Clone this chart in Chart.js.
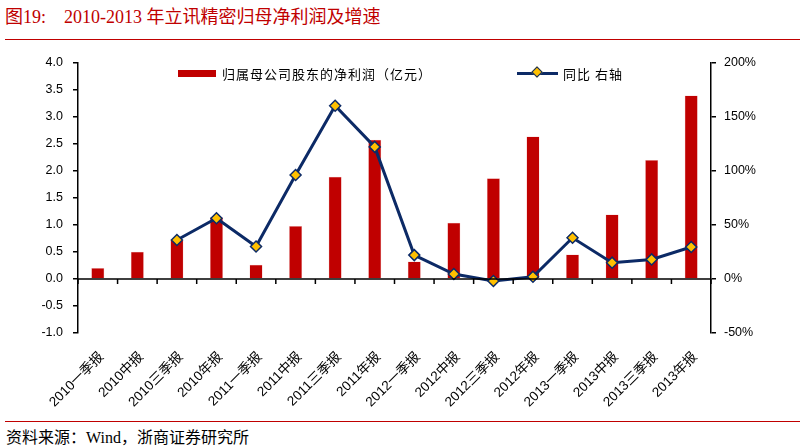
<!DOCTYPE html>
<html>
<head>
<meta charset="utf-8">
<script src="https://cdn.jsdelivr.net/npm/chart.js@4/dist/chart.umd.min.js"></script>
<style>
  body { margin: 0; background: #fff; width: 802px; height: 448px; position: relative; overflow: hidden; font-family: "Liberation Sans", "Noto Sans CJK SC", sans-serif; }
  #title { position: absolute; left: 5px; top: 2px; font-size: 18px; color: #c00000; font-family: "Liberation Serif", "Noto Sans CJK SC", serif; white-space: pre; }
  #title span { margin-left: 18px; }
  #titleLine { position: absolute; left: 5px; top: 39px; width: 795px; height: 1px; background: #c00000; }
  #footLine { position: absolute; left: 5px; top: 421px; width: 795px; height: 1px; background: #c00000; }
  #foot { position: absolute; left: 6px; top: 424px; font-size: 16px; color: #000; font-family: "Liberation Serif", "Noto Sans CJK SC", serif; }
  #wrap { position: absolute; left: 0; top: 45px; width: 802px; height: 375px; }
  .leg { position: absolute; top: 64px; font-size: 13px; color: #000; font-family: "Noto Sans CJK SC", sans-serif; display: flex; align-items: center; height: 18px; }
  .leg .bar { width: 38px; height: 7px; background: #c00000; margin-right: 6px; }
  .leg .ln { position: relative; width: 41px; height: 3px; background: #0c2a66; margin-right: 5px; }
  .leg .ln i { position: absolute; left: 16px; top: -3.5px; width: 6px; height: 6px; background: #ffc000; border: 1px solid #0c2a66; transform: rotate(45deg); }
</style>
</head>
<body>
<div id="title">图19:<span>2010-2013 年立讯精密归母净利润及增速</span></div>
<div id="titleLine"></div>
<div id="wrap"><canvas id="chart" width="802" height="375"></canvas></div>
<div class="leg" style="left:178px; letter-spacing:1px"><span class="bar"></span>归属母公司股东的净利润（亿元）</div>
<div class="leg" style="left:517px; letter-spacing:1px"><span class="ln"><i></i></span>同比 右轴</div>
<div id="footLine"></div>
<div id="foot">资料来源：Wind，浙商证券研究所</div>

<script>
const periods = ["2010一季报", "2010中报", "2010三季报", "2010年报", "2011一季报", "2011中报", "2011三季报", "2011年报",
  "2012一季报", "2012中报", "2012三季报", "2012年报", "2013一季报", "2013中报", "2013三季报", "2013年报"];
const netProfit = [0.20, 0.50, 0.72, 1.14, 0.26, 0.98, 1.89, 2.57, 0.32, 1.04, 1.86, 2.63, 0.45, 1.19, 2.20, 3.39];
const growthPct = [null, null, 36, 56, 30, 96, 160, 122, 22, 4.5, -2, 2, 38, 15, 18, 29.5];

const leftTicks = { min: -1, max: 4, step: 0.5 };
const rightTicks = { min: -50, max: 200, step: 50 };

// zero line + category tick marks along it
const zeroAxis = {
  id: "zeroAxis",
  afterDatasetsDraw(chart) {
    const ctx = chart.ctx;
    const x = chart.scales.x;
    const y0 = chart.scales.y.getPixelForValue(0);
    const area = chart.chartArea;
    const half = (x.getPixelForValue(1) - x.getPixelForValue(0)) / 2;
    ctx.save();
    ctx.strokeStyle = "#000";
    ctx.lineWidth = 1.5;
    ctx.beginPath();
    ctx.moveTo(area.left, y0);
    ctx.lineTo(area.right, y0);
    for (let i = 0; i <= periods.length; i++) {
      const px = x.getPixelForValue(i) - half;
      ctx.moveTo(px, y0);
      ctx.lineTo(px, y0 + 5);
    }
    ctx.stroke();
    ctx.restore();
  }
};

const tickFont = { family: "Liberation Sans", size: 12.5 };

new Chart(document.getElementById("chart"), {
  data: {
    labels: periods,
    datasets: [
      {
        type: "line",
        label: "同比 右轴",
        data: growthPct,
        yAxisID: "y1",
        borderColor: "#0c2a66",
        borderWidth: 3,
        pointStyle: "rectRot",
        pointRadius: 5.5,
        pointBackgroundColor: "#ffc000",
        pointBorderColor: "#0c2a66",
        pointBorderWidth: 1.5,
        tension: 0,
        order: 0
      },
      {
        type: "bar",
        label: "归属母公司股东的净利润（亿元）",
        data: netProfit,
        yAxisID: "y",
        backgroundColor: "#c00000",
        borderColor: "#f2b8b8",
        borderWidth: { left: 0.5, right: 0.5, top: 0.5, bottom: 0 },
        barPercentage: 0.33,
        categoryPercentage: 1,
        order: 1
      }
    ]
  },
  options: {
    responsive: false,
    animation: false,
    layout: { padding: { top: 17, left: 0, right: 0, bottom: 0 } },
    plugins: { legend: { display: false }, tooltip: { enabled: false } },
    scales: {
      x: {
        grid: { display: false },
        border: { display: false },
        ticks: {
          color: "#000",
          font: { family: "Liberation Sans, Noto Sans CJK SC", size: 13.5 },
          minRotation: 45,
          maxRotation: 45,
          padding: 8,
          labelOffset: 4,
          autoSkip: false
        },
        afterFit(s) { s.height = 87; }
      },
      y: {
        position: "left",
        min: leftTicks.min,
        max: leftTicks.max,
        grid: { drawOnChartArea: false, drawTicks: true, tickLength: 5, color: "#000", lineWidth: 1.5 },
        border: { display: true, color: "#000", width: 1.5 },
        ticks: {
          stepSize: leftTicks.step,
          color: "#000",
          font: tickFont,
          padding: 10,
          callback: v => v.toFixed(1)
        },
        afterFit(s) { s.width = 78; }
      },
      y1: {
        position: "right",
        min: rightTicks.min,
        max: rightTicks.max,
        grid: { drawOnChartArea: false, drawTicks: true, tickLength: 5, color: "#000", lineWidth: 1.5 },
        border: { display: true, color: "#000", width: 1.5 },
        ticks: {
          stepSize: rightTicks.step,
          color: "#000",
          font: tickFont,
          padding: 8,
          callback: v => v + "%"
        },
        afterFit(s) { s.width = 91; }
      }
    }
  },
  plugins: [zeroAxis]
});
</script>
</body>
</html>
